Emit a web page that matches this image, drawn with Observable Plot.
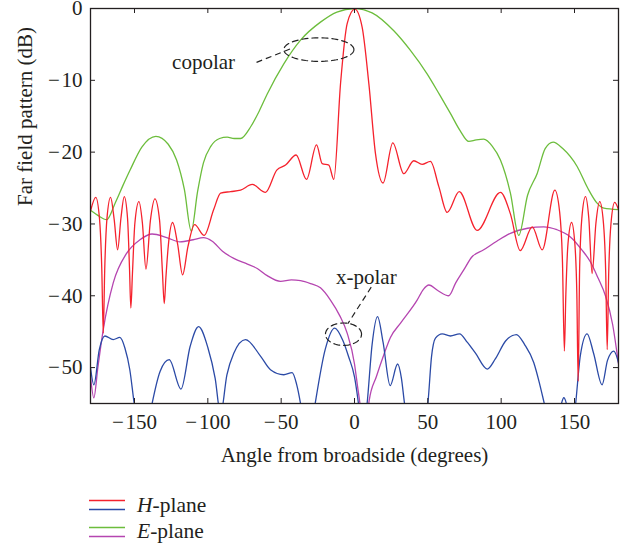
<!DOCTYPE html>
<html><head><meta charset="utf-8">
<script src="https://cdn.jsdelivr.net/npm/d3@7"></script>
<script src="https://cdn.jsdelivr.net/npm/@observablehq/plot@0.6"></script>
<style>
body{margin:0;background:#fff;font-family:"Liberation Serif",serif;color:#231f20;}
#legend{position:relative;height:78px;width:633px;}
.row{position:absolute;left:89px;height:24px;display:flex;align-items:center;font-size:21.5px;}
.row svg{margin-right:12px;}
</style></head><body>
<div id="chart"></div>
<div id="legend"></div>
<script>
// H-plane copolar (red)
const hCoAngle = [-180,-176.4,-173.85,-172.3,-171.3,-170.3,-168.8,-166.3,-163.9,-161.5,-159.25,-157,-154.75,-153.4,-152.5,-151.4,-149.75,-147,-144.6,-142.2,-139.15,-136.1,-132.9,-131,-129.7,-128.6,-126.85,-124,-120.6,-117.2,-113.6,-109,-102.5,-96,-91.3,-84.5,-77.7,-69.7,-60.7,-53,-47,-39.8,-32.7,-25.9,-22,-17.5,-14.1,-9.5,-5,0.2,5.2,9.8,14.3,19.5,26.1,33.6,40.4,46.1,51.8,57.5,63.2,71.4,83.6,99.5,106.3,113,121.2,128,136.6,139.85,141.8,143.1,144.1,145.55,148,150.25,151.6,152.5,153.5,155,157.5,159.75,162,164.6,167.2,169.75,171.3,172.3,173.3,174.85,177.4,180];
const hCoDb = [-28.2,-26.3,-29.3,-36.3,-45.2,-36.3,-29.3,-26.3,-29.3,-33.6,-29.2,-26.2,-29.2,-36.2,-41.7,-36.9,-29.9,-26.9,-29.9,-36.3,-29.5,-26.5,-29.5,-36.5,-41.1,-37.5,-32.8,-29.8,-32.8,-37.1,-33.2,-30.1,-31.6,-28,-25.7,-25.5,-25.3,-24.5,-25.6,-22.5,-21.8,-20.4,-23.8,-19.0,-21.6,-21.8,-23.8,-10.4,-2.1,-0.1,-2.6,-10.5,-20.2,-24.3,-18.7,-23.0,-21.2,-21.7,-21.3,-24.8,-28.4,-25.5,-30.9,-25.6,-28.6,-33.7,-30.4,-33.6,-25.3,-28.3,-35.3,-47.7,-39.8,-32.8,-29.8,-32.8,-39.8,-51.9,-36.2,-29.2,-26.2,-29.2,-36.9,-29.9,-26.9,-29.9,-36.9,-47.5,-37,-30,-27,-28];
// E-plane copolar (green)
const eCoAngle = [-180,-175,-169,-163,-158,-153,-145,-135.4,-127,-121.3,-116,-111.3,-107,-103,-98,-92,-86.8,-82,-77.7,-70.9,-65,-59.5,-48.2,-36.8,-23.2,-12,0,12,26.8,38,49.5,58,65.4,72,77.9,83,88.1,94,99.5,106.3,112,118,124.5,130,135.4,142,151.8,159,165.4,170,180];
const eCoDb = [-28.1,-28.8,-29.4,-27,-24.7,-22.5,-19.3,-17.8,-18.9,-21.1,-25.2,-31,-25.5,-21.5,-19.2,-18.1,-17.9,-18.1,-18.1,-16.5,-14.3,-11.9,-7.7,-4.4,-1.9,-0.5,0,-0.6,-3.1,-5.8,-9.1,-12,-14.6,-17,-18.5,-18.3,-18.2,-19.2,-21.1,-25.7,-31.6,-26,-23,-19.5,-18.6,-19.5,-22,-25,-27.1,-27.8,-28];
// H-plane cross-polar (blue)
const hXAngle = [-180,-177.7,-174,-170.2,-164.5,-160,-156.5,-153.2,-150.2,-144,-138,-132.5,-126.3,-118.3,-112,-106.3,-100,-95,-91.3,-87,-82.3,-74.3,-64.1,-57.3,-48.2,-42.5,-39.5,-36.8,-32,-26.8,-20,-13.5,-8,-4,0,3,5.5,8.6,12,15.7,19.5,24.3,29.4,32,34.1,42,50,52.5,55.2,59.8,65.4,71.6,77,82.5,90.5,96,103,110.4,116,122.2,126.5,130,136,140.5,142.7,145,148,150.8,154,158.6,163,168.8,172.5,176.8,180];
const hXDb = [-50,-52.4,-47.5,-45.6,-46.1,-45.8,-47.3,-50.3,-55,-62,-55,-50.5,-48.9,-53,-47,-44.3,-47.2,-51.5,-56.5,-51,-48,-46.1,-48.4,-50.3,-51,-50.7,-52.3,-55,-62,-55,-47.5,-44.5,-46.2,-48.5,-51.3,-55.5,-60,-55,-46.8,-42.9,-46.5,-52.5,-49.5,-51.5,-55,-62,-55,-48.5,-45.9,-45.3,-45.6,-45.3,-46.5,-48,-50.2,-48.8,-46.3,-45.4,-46.8,-49.3,-52.5,-55.5,-60,-55.5,-54.2,-55.5,-60,-55,-48.3,-45.3,-48,-52.4,-49,-47.7,-49.3];
// E-plane cross-polar (magenta)
const eXAngle = [-180,-177.7,-175,-171.3,-164.5,-155.4,-146.3,-138,-128,-119,-110,-103,-97,-90,-82.3,-73,-66.3,-59.5,-50.4,-43,-36.8,-30,-23.2,-16.4,-10,-5,0,2,4,6,8.5,10,15,20,24.5,31.4,42.7,47,50.7,57,64.3,69,74.5,80,88.1,97,106.3,118,129,138,147.2,155,160.9,166,171.1,176,180];
const eXDb = [-51.2,-54.2,-50,-44.7,-38.2,-34.1,-32.2,-31.4,-31.9,-32.5,-32.2,-31.9,-32.4,-33.8,-34.8,-35.6,-36.2,-37.2,-38.0,-37.8,-37.9,-38.3,-38.9,-40.6,-42.8,-45.2,-49.5,-52.5,-55.5,-60,-57,-54.6,-51.2,-48.2,-45.8,-43.8,-40.6,-39.1,-38.5,-39.3,-40,-38.2,-36.4,-34.6,-33.6,-32.4,-31.3,-30.6,-30.4,-30.8,-31.8,-33.6,-35.3,-37.5,-40,-44,-49.5];

const xTicks = [-150,-100,-50,0,50,100,150];
const yTicks = [0,-10,-20,-30,-40,-50];
const xLabel = "Angle from broadside (degrees)";
const yLabel = "Far field pattern (dB)";

// annotations (data units)
const annoText = ["copolar","x-polar"];
const annoX = [-102.9, 8.05];
const annoY = [-7.5, -37.36];
const leadX1 = [-66.8, 11.4], leadY1 = [-7.5, -38.8];
const leadX2 = [-42.9, -4.6], leadY2 = [-5.56, -43.9];
const ellCx = [-24.3, -7.5], ellCy = [-5.72, -45.35], ellRx = [23.9, 12.3], ellRy = [1.64, 1.56];

const colors = {red:"#f5222d", blue:"#2b4aa6", green:"#6cbd3c", magenta:"#b545b0"};

const rows = (a, v) => a.map((x, i) => ({x, y: v[i]}));
const ellipsePts = [];
ellCx.forEach((cx, k) => {
  for (let i = 0; i <= 90; i++) {
    const t = 2 * Math.PI * i / 90;
    ellipsePts.push({id: k, x: cx + ellRx[k] * Math.cos(t), y: ellCy[k] + ellRy[k] * Math.sin(t)});
  }
});
const leaders = leadX1.map((x1, i) => ({x1, y1: leadY1[i], x2: leadX2[i], y2: leadY2[i]}));
const annos = annoText.map((t, i) => ({t, x: annoX[i], y: annoY[i]}));

const W = 633, H = 470, mL = 90, mR = 15, mT = 8, mB = 67;
const pW = W - mL - mR, pH = H - mT - mB;
const FS = 21;
const fmt = d => d === 0 ? "0" : (d < 0 ? "\u2212\u200A" : "") + Math.abs(d);
const lineOpts = (c) => ({x: "x", y: "y", stroke: c, strokeWidth: 1.3, curve: "monotone-x", clip: true});

const chart = Plot.plot({
  width: W, height: H, marginLeft: mL, marginRight: mR, marginTop: mT, marginBottom: mB,
  style: {fontFamily: "Liberation Serif", fontSize: FS + "px", color: "#231f20", background: "#fff", overflow: "visible"},
  x: {domain: [-180, 180]},
  y: {domain: [-55, 0]},
  marks: [
    Plot.line(rows(eXAngle, eXDb), lineOpts(colors.magenta)),
    Plot.line(rows(hXAngle, hXDb), lineOpts(colors.blue)),
    Plot.line(rows(eCoAngle, eCoDb), lineOpts(colors.green)),
    Plot.line(rows(hCoAngle, hCoDb), lineOpts(colors.red)),
    Plot.line(ellipsePts, {x: "x", y: "y", z: "id", stroke: "#222", strokeWidth: 1.2, strokeDasharray: "6,4"}),
    Plot.link(leaders, {x1: "x1", y1: "y1", x2: "x2", y2: "y2", stroke: "#222", strokeWidth: 1.2, strokeDasharray: "6,4"}),
    Plot.text(annos, {x: "x", y: "y", text: "t", fontSize: FS, fill: "#231f20"}),
    Plot.frame({stroke: "#231f20", strokeWidth: 1.3}),
    Plot.tickX(xTicks, {x: d => d, insetTop: pH - 5, stroke: "#231f20"}),
    Plot.tickX(xTicks, {x: d => d, insetBottom: pH - 5, stroke: "#231f20"}),
    Plot.tickY(yTicks, {y: d => d, insetRight: pW - 5, stroke: "#231f20"}),
    Plot.tickY(yTicks, {y: d => d, insetLeft: pW - 5, stroke: "#231f20"}),
    Plot.axisX(xTicks, {tickSize: 0, tickPadding: 11, tickFormat: fmt, label: null, fontSize: FS}),
    Plot.axisY(yTicks, {tickSize: 0, tickPadding: 8, tickFormat: fmt, label: null, fontSize: FS}),
    Plot.text([xLabel], {frameAnchor: "bottom", lineAnchor: "middle", dy: 51.3, fontSize: FS, fill: "#231f20"}),
    Plot.text([yLabel], {frameAnchor: "left", lineAnchor: "middle", dx: -65, rotate: -90, fontSize: FS, fill: "#231f20"})
  ]
});
document.getElementById("chart").appendChild(chart);

// legend
const legendItems = [
  {italic: "H", rest: "-plane", c1: colors.red, c2: colors.blue, center: 35},
  {italic: "E", rest: "-plane", c1: colors.green, c2: colors.magenta, center: 61.5}
];
const lg = document.getElementById("legend");
legendItems.forEach(it => {
  const r = document.createElement("div");
  r.className = "row";
  r.style.top = (it.center - 12) + "px";
  r.innerHTML = `<svg width="36" height="14"><line x1="0" x2="36" y1="2.5" y2="2.5" stroke="${it.c1}" stroke-width="1.3"/><line x1="0" x2="36" y1="11.5" y2="11.5" stroke="${it.c2}" stroke-width="1.3"/></svg><span><i>${it.italic}</i>${it.rest}</span>`;
  lg.appendChild(r);
});
</script>
</body></html>
